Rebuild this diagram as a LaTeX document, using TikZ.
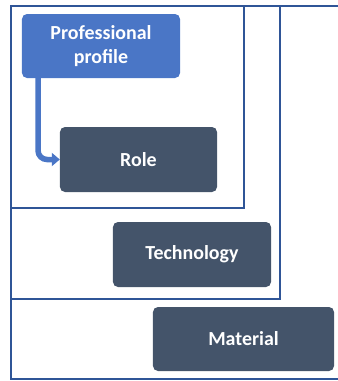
\documentclass[tikz,border=0pt]{standalone}
\usepackage{fontspec}
\setmainfont{Carlito}
\usetikzlibrary{arrows.meta}
\definecolor{framec}{HTML}{2F5597}
\definecolor{bluebox}{HTML}{4A76C6}
\definecolor{darkbox}{HTML}{44546A}
\begin{document}
\begin{tikzpicture}[x=1bp,y=-1bp,
  frame/.style={draw=framec,line width=2.4bp},
  box/.style={rounded corners=5bp,text=white,font=\bfseries\fontsize{20}{24}\selectfont,align=center,inner sep=0pt},
  bluestyle/.style={box,fill=bluebox},
  darkstyle/.style={box,fill=darkbox}]
\useasboundingbox (0,0) rectangle (338,381);
\draw[frame] (338,6) -- (11,6) -- (11,379) -- (338,379);
\draw[frame] (11,6) rectangle (280,299);
\draw[frame] (11,6) rectangle (244,208);
\node[bluestyle,minimum width=158bp,minimum height=64bp] (prof) at (101,46) {Professional\\profile};
\node[darkstyle,minimum width=157bp,minimum height=65bp] (role) at (138.5,159.5) {Role};
\node[darkstyle,minimum width=158bp,minimum height=65bp] (tech) at (192,254.5) {Technology};
\node[darkstyle,minimum width=181bp,minimum height=64bp] (mat) at (243.5,339) {Material};
\draw[bluebox,line width=5.5bp,rounded corners=9bp,-{Triangle[length=8bp,width=13bp]}] (prof.south -| 38,0) |- (role.west);
\end{tikzpicture}
\end{document}
